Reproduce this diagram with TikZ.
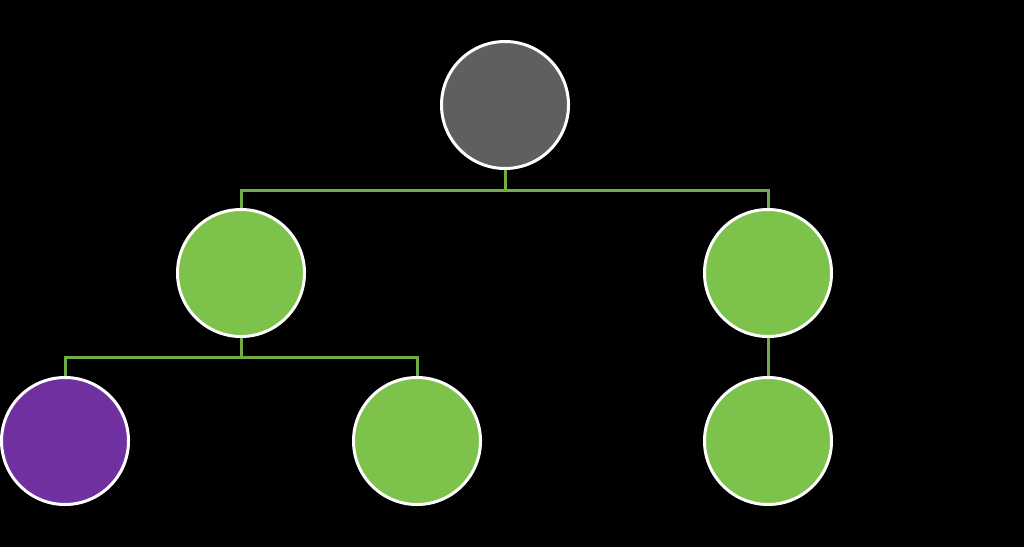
\documentclass[tikz,border=0pt]{standalone}
\usepackage{tikz}
\usetikzlibrary{positioning}
\definecolor{leafgreen}{HTML}{7DC24A}
\definecolor{linkgreen}{HTML}{70AD47}
\definecolor{rootgray}{HTML}{5F5F5F}
\definecolor{leafpurple}{HTML}{7030A0}

\begin{document}
\begin{tikzpicture}[x=0.75pt, y=-0.75pt,
		every node/.style={circle, draw=white, line width=2.25pt, minimum size=95.25pt, inner sep=0pt},
		link/.style={draw=linkgreen, line width=2.25pt}]
		\fill[black] (0,0) rectangle (1024,547);
		\useasboundingbox (0,0) rectangle (1024,547);
		\node[fill=rootgray](root) at (505,105) {};
		\node[fill=leafgreen](node1) at (241,273) {};
		\node[fill=leafgreen](node2) at (768,273) {};
		\node[fill=leafpurple](node11) at (65,441) {};
		\node[fill=leafgreen](node12) at (417,441) {};
		\node[fill=leafgreen](node21) at (768,441) {};
		\coordinate (bar0) at (505,190);
		\coordinate (bar1) at (241,357);
		\path[link] (root.south) -- (bar0) -| (node1.north)
		(bar0) -| (node2.north)
		(node1.south) -- (bar1) -| (node11.north)
		(bar1) -| (node12.north)
		(node2.south) -- (node21.north)
		;
	\end{tikzpicture}
\end{document}
